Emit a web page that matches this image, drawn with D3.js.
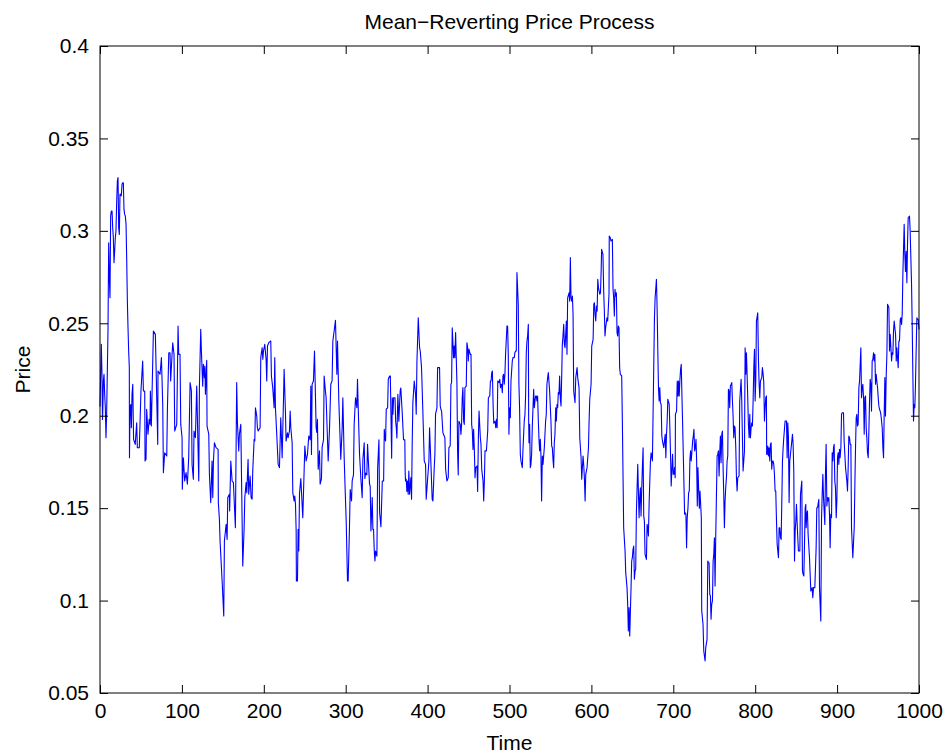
<!DOCTYPE html>
<html>
<head>
<meta charset="utf-8">
<script src="https://d3js.org/d3.v7.min.js"></script>
<style>
  body { margin: 0; background: #fff; }
  svg text { font-family: "Liberation Sans", Arial, Helvetica, sans-serif; fill: #000; }
  .axis path { display: none; }
  .axis line { stroke: #000; stroke-width: 1; }
  .price-line { fill: none; stroke: #0000ff; stroke-width: 1.1; stroke-linejoin: round; }
</style>
</head>
<body>
<svg width="950" height="753"></svg>
<script>
const chartTitle = "Mean\u2212Reverting Price Process";
const xLabel = "Time";
const yLabel = "Price";

const xTicks = [0, 100, 200, 300, 400, 500, 600, 700, 800, 900, 1000];
const yTicks = [0.05, 0.1, 0.15, 0.2, 0.25, 0.3, 0.35, 0.4];
const yTickLabels = ["0.05", "0.1", "0.15", "0.2", "0.25", "0.3", "0.35", "0.4"];

// [time, price]
const pricePath = [
  [0,0.205],[1.6,0.2386],[2.4,0.2224],[3,0.198],[3.3,0.2008],[4.1,0.2188],[4.9,0.2224],[5.7,0.2116],[6.5,0.2043],[7.3,0.1881],[8.1,0.2008],[9.8,0.2476],
  [10.6,0.2936],[11.4,0.2747],[12.2,0.2638],[13,0.308],[13.8,0.3107],[14.7,0.3107],[15.5,0.3017],[16.3,0.2963],[17.1,0.2828],[17.9,0.2891],[18.7,0.2963],[19.5,0.2999],
  [20.4,0.3161],[21.2,0.327],[22,0.3288],[22.8,0.3017],[23.6,0.2981],[24.4,0.3198],[25.2,0.3198],[26,0.3189],[26.9,0.3252],[27.7,0.326],[28.5,0.326],[29.3,0.3116],
  [30.1,0.3089],[30.9,0.308],[31.8,0.3035],[32.6,0.2846],[33.4,0.262],[34.2,0.2476],[35,0.235],[35.8,0.226],[36,0.1773],[36.6,0.2025],[37.5,0.2061],[38.3,0.1935],[39.1,0.2116],
  [40,0.217],[41,0.1872],[43,0.1845],[44.8,0.1962],[45.6,0.1827],[48,0.1827],[50,0.2134],[52.1,0.2296],[53,0.2134],[54.6,0.2134],[55,0.1755],[56.2,0.1764],[57,0.2035],
  [58.6,0.190],[60,0.198],[61.1,0.1953],[61.5,0.2134],[62.7,0.1944],[65.2,0.2458],[67.6,0.244],[70.5,0.1845],[70.8,0.2242],[73.3,0.2224],[75,0.2314],[76.6,0.2061],
  [77.4,0.1692],[79,0.18],[81.5,0.1782],[82.3,0.2035],[84,0.2341],[85.5,0.2341],[86.3,0.2188],[88,0.2332],[88.8,0.2395],[90.4,0.2332],[91.2,0.1917],[93.7,0.1953],
  [95.3,0.2485],[96.1,0.2332],[97.7,0.2332],[98.6,0.1953],[100.2,0.1881],[100.5,0.1602],[101.8,0.1773],[103.4,0.1647],[105.1,0.1692],[106.7,0.1629],[108.3,0.1773],
  [110,0.2179],[111.6,0.2134],[112.4,0.1737],[114,0.1656],[114.8,0.1917],[116.5,0.1881],[118.1,0.2161],[119.7,0.1827],[120.6,0.1647],[121.4,0.2161],[123,0.2467],
  [123.8,0.235],[125.4,0.216],[126.2,0.2278],[127.5,0.2206],[128.1,0.2269],[128.7,0.2116],[130.3,0.23],[130.7,0.1944],[132.8,0.190],[133.6,0.1683],[135.2,0.153],
  [136.8,0.1755],[137.7,0.1557],[138.5,0.1755],[139.7,0.1854],[141.7,0.1827],[144.2,0.1818],[144.5,0.153],[145.8,0.144],[146.6,0.1322],[149.1,0.1106],[151.1,0.0917],
  [151.9,0.1322],[154,0.1412],[155.2,0.1331],[156,0.1557],[158,0.1575],[158.3,0.1485],[159.7,0.1755],[161.3,0.1647],[162.9,0.1638],[165.3,0.1394],[166.9,0.2179],
  [167.8,0.1962],[169.4,0.1809],[170.2,0.190],[171.9,0.1953],[174.3,0.1187],[176,0.1394],[176.8,0.1557],[178.4,0.1638],[179.2,0.1584],[180.8,0.1764],[181.6,0.1575],
  [183.3,0.1674],[184.5,0.1557],[185.7,0.1548],[186.5,0.1701],[188.2,0.1872],[189,0.1863],[189.8,0.2043],[191.4,0.1998],[192.2,0.1935],[193.1,0.1917],[195.5,0.1935],
  [196.3,0.2314],[198,0.2368],[198.8,0.2305],[199.6,0.235],[201.2,0.2386],[202.8,0.2305],[203.6,0.2188],[204.5,0.2377],[206.1,0.2395],[208.5,0.2404],[209.3,0.2215],
  [210.9,0.2152],[212.6,0.2043],[213.4,0.2314],[214.2,0.2043],[215.8,0.190],[217.5,0.1737],[219.1,0.1719],[220.7,0.1989],[222.4,0.1773],[224,0.208],[224.8,0.2251],
  [226.4,0.2025],[227.2,0.1863],[228.9,0.1908],[229.7,0.1881],[231.3,0.1917],[232.2,0.2025],[233,0.1935],[234.6,0.1854],[235.4,0.1584],[237,0.1539],[237.8,0.1566],
  [238.7,0.1521],[239.5,0.1376],[239.8,0.1106],[241.1,0.1106],[241.9,0.1385],[242.7,0.1268],[243.6,0.158],[245.2,0.166],
  [247.6,0.1448],[250.1,0.1836],[251.7,0.1755],[253.3,0.179],[254.9,0.189],[256.6,0.187],[257.4,0.216],[258.2,0.179],[259,0.217],[260.6,0.2188],[261.9,0.235],
  [263.9,0.1935],[264.7,0.191],[265.5,0.198],[266.4,0.171],[268,0.181],[268.8,0.163],[270.4,0.166],[271.2,0.183],[272.9,0.187],[273.7,0.2215],[275.3,0.213],
  [276.1,0.2097],[278.6,0.1755],[280.2,0.1926],[281.8,0.217],[283.4,0.219],[284.3,0.2404],[285.9,0.2458],[287.5,0.2516],[289.2,0.2224],[290,0.2404],[291.6,0.208],
  [294,0.1764],[295.7,0.1935],[296.5,0.2097],[298.1,0.178],[299,0.1647],[300.6,0.143],[302.2,0.1106],[303,0.1106],[304.6,0.1394],[305.5,0.160],[307.1,0.1539],
  [307.9,0.1647],[309.5,0.168],[310.3,0.195],[312,0.2097],[313.6,0.2043],[314.4,0.2197],[315.3,0.2043],[316.9,0.179],[318.5,0.166],[320.1,0.1557],[321,0.1764],
  [322.6,0.1854],[323.4,0.166],[324.2,0.169],[325.8,0.168],[326.7,0.1845],[327.5,0.177],[329.1,0.163],[329.9,0.162],[330.8,0.1376],[332.4,0.1557],[333.2,0.1385],
  [334,0.1385],[334.9,0.1268],[335.7,0.1214],[336.5,0.1268],[338.1,0.124],[339,0.1719],[340.6,0.187],[341.4,0.1476],[343,0.140],[344.7,0.1647],[346.3,0.1647],
  [347.1,0.1926],[347.9,0.188],[348.7,0.1863],[349.5,0.2035],[351.2,0.2043],[352,0.2197],[353.6,0.2215],[354.5,0.2215],[356.1,0.177],[356.9,0.2097],[357.7,0.2008],
  [358.5,0.2097],[360.2,0.2097],[361,0.197],[361.8,0.1935],
  [362.5,0.188],[363.7,0.2116],[364.9,0.197],[366.5,0.2134],[367.3,0.215],[368.9,0.2025],[370.6,0.187],[372.2,0.187],[372.6,0.170],[373,0.1647],[373.9,0.1656],
  [374.7,0.159],[375.5,0.1647],[376.3,0.1575],[377.1,0.170],[378,0.1575],[379.6,0.1665],[380.4,0.1548],[381.2,0.185],[382,0.207],[383.7,0.2188],[385.3,0.2116],
  [386.1,0.2008],[387,0.2296],[388.6,0.253],[390.2,0.2368],[391,0.235],[392.6,0.226],[394.3,0.2008],[395.9,0.1755],[397.5,0.1737],[398.3,0.1548],[400,0.1656],
  [401.6,0.1755],[402.4,0.1935],[404,0.1746],[405.6,0.1548],[406.5,0.1539],[408.1,0.1719],[408.9,0.179],[409.7,0.2008],[411.4,0.2043],[412.2,0.226],[414.6,0.226],
  [415.4,0.2053],[416.2,0.2035],[417.1,0.2025],[418.7,0.1908],[421.1,0.1881],[422,0.171],[423.6,0.1647],[425.2,0.1665],[426,0.1827],[427.6,0.1836],[428.5,0.217],
  [429.3,0.2179],[430.1,0.2476],[431.7,0.2314],[432.5,0.2377],[433.3,0.2314],[434.2,0.245],[435.8,0.2179],[436.6,0.181],[437.4,0.168],[438.2,0.197],[439.9,0.1953],
  [440.7,0.1899],[441.5,0.1953],[442.3,0.2097],[443.1,0.2152],[444,0.197],[444.8,0.1953],[445.6,0.2152],[447.2,0.216],[448,0.2395],[448.9,0.2368],[449.7,0.2296],
  [450.5,0.236],[452.1,0.2332],[453,0.2332],[453.8,0.1953],[454.6,0.1917],[455.4,0.1818],[456.2,0.1926],[457.1,0.181],[457.9,0.1665],[458.7,0.1719],[460.3,0.1728],
  [461.1,0.159],[462,0.1881],[462.8,0.2025],[464.4,0.1881],[465.2,0.1845],[466.1,0.171],[467.7,0.1647],[468.5,0.1539],[469.3,0.1647],[470.1,0.181],[471.8,0.181],
  [473.4,0.1917],[474.2,0.2097],[475.9,0.2107],[476.7,0.2188],[477.5,0.2188],[478.3,0.2233],[479.1,0.2242],[480,0.2053],[480.8,0.196],[482.4,0.197],[483.2,0.1935],
  [484.1,0.198],[484.9,0.1935],[485.7,0.2188],[487.3,0.2179],[488.1,0.2197],[489,0.2152],[489.8,0.217],
  [490.3,0.217],[491.2,0.2125],[492,0.2215],[492.8,0.2224],[493.6,0.217],[494.4,0.2224],[495.2,0.2332],[496.9,0.2485],[497.7,0.2485],[498.5,0.2332],[499.3,0.190],
  [500.1,0.2043],[501,0.1989],[501.8,0.2188],[503.4,0.2296],[504.2,0.2314],[505.8,0.2314],[506.6,0.2341],[507.5,0.235],[508.3,0.235],[509.1,0.2774],[510.7,0.2603],
  [511.5,0.217],[512.3,0.2043],[513.2,0.1791],[514,0.1755],[515.6,0.1719],[516.4,0.181],[518,0.1971],[518.9,0.2008],[519.7,0.2116],[520.5,0.2341],[521.3,0.2404],
  [522.1,0.2431],[523,0.2494],[523.4,0.1971],[523.8,0.1854],[524.6,0.1953],[525.4,0.1719],[526.2,0.1737],[527,0.1791],[527.8,0.1935],[529.5,0.2143],[530.3,0.2043],
  [531.1,0.208],[531.9,0.2107],[532.7,0.2107],[533.5,0.208],[534.3,0.2107],[535.2,0.1971],[536,0.1872],[536.8,0.181],[537.6,0.1872],[538.4,0.1782],[539.2,0.1539],
  [540.1,0.1782],[540.9,0.1737],[542.5,0.1827],[543.3,0.190],[544.1,0.1971],[544.9,0.2008],[545.7,0.217],[546.6,0.2206],[547.4,0.2233],[549,0.2134],[550.6,0.1971],
  [551.5,0.1836],[552.3,0.1827],[553.1,0.1764],[553.9,0.1719],[554.7,0.1854],[555.5,0.190],[556.4,0.2043],[557.2,0.1971],[558,0.2061],[558.8,0.2043],[559.6,0.2125],
  [560.4,0.2116],[561.2,0.2215],[562.1,0.2089],[562.9,0.2053],[563.7,0.2206],[564.5,0.2386],[565.3,0.2431],[566.2,0.2494],[567,0.2386],[567.8,0.2368],[568.6,0.244],
  [569.4,0.2512],[570.2,0.2332],[571,0.2638],[572.7,0.2665],[573.5,0.262],[574.3,0.2855],[575.1,0.2638],[576,0.262],[576.8,0.2647],[577.6,0.2549],[578.4,0.2134],
  [580,0.207],[580.9,0.2206],[582.5,0.226],[583.3,0.2206],[584.9,0.2152],[585.8,0.1881],[587.4,0.1773],[588.2,0.1656],[589.8,0.1782],[590.7,0.1728],[591.5,0.1656],
  [592.3,0.1539],[593.1,0.1683],[594.7,0.1719],[596.4,0.1827],[597.2,0.1971],[598,0.2089],[599.6,0.217],[600.4,0.2377],[602.1,0.2413],[602.9,0.2603],[603.7,0.2611],
  [604.5,0.2549],[605.3,0.2512],[606.2,0.2593],[607,0.2566],[607.8,0.2738],[608.6,0.2693],[610.3,0.2657],[611.1,0.2665],[611.9,0.2783],
  [612.5,0.290],[614.1,0.2873],[615,0.2675],[615.8,0.2566],[616.6,0.2431],[617.4,0.2476],[619,0.253],[619.9,0.2512],[621.5,0.2657],[621.8,0.2972],[623.1,0.2963],
  [623.9,0.2945],[625.6,0.2954],[626.4,0.2684],[627.2,0.2638],[628,0.2539],[628.8,0.2684],[629.6,0.2647],[630.5,0.2665],[631.3,0.2449],[632.1,0.2431],[632.9,0.2485],
  [633.7,0.2476],[634.5,0.226],[635.3,0.2224],[637,0.2215],[637.8,0.1971],[639.4,0.1394],[641.1,0.1268],[641.9,0.1151],[643.5,0.107],[644.3,0.098],[645.1,0.0835],
  [646,0.0962],[646.8,0.0808],[648.4,0.107],[649.2,0.1214],[650,0.1232],[650.8,0.1277],[651.7,0.1295],[652.5,0.1115],[653.3,0.116],[654.1,0.1169],[654.9,0.1467],
  [656.6,0.1737],[657.4,0.1593],[658.2,0.1448],[659,0.1557],[659.8,0.161],[660.6,0.1457],[661.5,0.161],[662.3,0.1728],[663.1,0.1827],[663.9,0.1457],[664.7,0.143],
  [665.5,0.125],[667.2,0.1223],[668,0.1412],[668.8,0.1394],[669.6,0.1349],[670.5,0.153],[672.1,0.1755],[672.9,0.18],[674.5,0.1755],[675.4,0.2043],[677,0.253],
  [677.8,0.2638],[679.4,0.2738],[680.3,0.2566],[681.1,0.235],[681.9,0.2152],[682.7,0.208],[683.5,0.2152],[684.3,0.207],[685.2,0.2061],[686,0.189],[686.8,0.1863],
  [688.4,0.1827],[689.2,0.1863],[690.1,0.190],[690.9,0.1773],[691.7,0.190],[692.5,0.1971],[693.3,0.2089],[695,0.2061],[695.8,0.1935],[696.6,0.1791],[697.4,0.162],
  [699.1,0.1791],[699.9,0.1683],[700.7,0.1683],[701.5,0.1719],[702.3,0.1665],[702.6,0.2008],[704,0.2025],[704.8,0.2188],[705.6,0.2107],[706.4,0.2188],[707.2,0.2107],
  [708,0.2188],[708.9,0.2251],[709.7,0.2278],[710.5,0.2116],[711.3,0.1971],[712.1,0.181],[713,0.1629],[713.8,0.1467],[714.6,0.1475],[715.4,0.1467],[716.2,0.1286],
  [717,0.1448],[717.9,0.150],[718.7,0.1584],[719.5,0.1593],[720.3,0.1764],[721.1,0.181],[721.9,0.1755],[722.8,0.181],[723.6,0.1863],[724.4,0.189],[725.2,0.1926],
  [726,0.181],[726.9,0.1827],[727.7,0.1872],[728.5,0.1755],[729.3,0.1512],[730.1,0.1719],[730.9,0.161],[731.8,0.150],[732.6,0.1593],[734.2,0.1448],
  [734.7,0.0944],[736.3,0.0872],[737.2,0.0727],[738.8,0.0673],[739.6,0.0745],[741.2,0.079],[742.1,0.1214],[742.9,0.1205],[743.7,0.1205],[744.5,0.1034],[745.3,0.1025],
  [746.1,0.0899],[746.9,0.098],[747.8,0.0998],[748.6,0.1214],[749.4,0.125],[750.2,0.134],[751,0.1079],[751.8,0.134],[752.6,0.1548],[753.5,0.1782],[754.3,0.1791],
  [755.1,0.181],[755.9,0.1674],[756.7,0.18],[757.5,0.189],[758.3,0.1746],[759.2,0.19],[760,0.1917],[760.8,0.1719],[761.6,0.1575],[762.4,0.1394],[763.2,0.1539],
  [764,0.1611],[764.9,0.1665],[765.7,0.1755],[766.5,0.1782],[767.3,0.2143],[768.1,0.2134],[768.9,0.2043],[769.7,0.2161],[770.6,0.217],[771.4,0.2179],[772.2,0.208],
  [773,0.1998],[773.8,0.1881],[774.6,0.1944],[775.4,0.1935],[776.3,0.1827],[777.1,0.1665],[777.9,0.1593],[778.7,0.1665],[780.3,0.1674],[781.1,0.208],[782.8,0.2197],
  [783.6,0.208],[784.4,0.1881],[785.2,0.1701],[786.9,0.181],[787.7,0.2368],[788.5,0.2224],[789.3,0.2341],[790.1,0.2224],[790.9,0.2097],[791.7,0.1953],[792.6,0.1881],
  [793.4,0.2008],[794.2,0.1881],[795,0.1935],[795.8,0.1962],[796.6,0.1944],[797.4,0.207],[798.3,0.226],[799.1,0.2359],[799.9,0.208],[800.7,0.2188],[801.5,0.2512],
  [803.1,0.2557],[804,0.2296],[804.8,0.217],[805.6,0.2097],[806.4,0.2188],[808,0.2206],[808.8,0.226],[809.7,0.2224],[810.5,0.2179],[811.3,0.1971],[812.1,0.2043],
  [812.9,0.2097],[813.7,0.2107],[814,0.1791],[814.5,0.1791],[815.4,0.1836],[816.2,0.1782],[817,0.1827],[817.8,0.1755],[818.6,0.1845],[819.4,0.1854],[820.2,0.171],
  [821.1,0.1755],[821.9,0.1755],[822.7,0.1737],[823.5,0.1683],[824.3,0.1593],[825.1,0.1593],[825.9,0.1448],[826.8,0.1304],[828.4,0.1232],[829.2,0.1394],[830,0.1394],
  [830.8,0.134],[831.7,0.1331],[832.5,0.1539],[833.3,0.1755],[834.1,0.1827],[834.9,0.1881],[836.5,0.1971],[838.2,0.1971],[839,0.1773],[839.8,0.1962],[840.6,0.1881],
  [841.4,0.153],[842.2,0.1755],[843.9,0.1827],[844.7,0.1863],[845.5,0.19],[846.3,0.1845],[847.1,0.1701],[848,0.1214],[848.8,0.1376],[849.6,0.143],[850.4,0.1521],
  [851.2,0.1421],[852,0.134],[852.8,0.1268],[854.5,0.1268],[855.3,0.1575],[856.1,0.1611],[856.9,0.1647],[857.7,0.116],[858.5,0.1142],[859.4,0.1133],[860.2,0.1304],
  [861,0.1502],[861.8,0.1521],
  [862.2,0.1394],[863,0.1467],[863.8,0.1485],[864.6,0.1358],[866.3,0.1232],[867.9,0.1052],[869.5,0.107],[870.3,0.1016],[871.2,0.107],[872.8,0.107],[874.4,0.1286],
  [875.2,0.1502],[876.1,0.1502],[877.7,0.1548],[878.5,0.107],[880.1,0.089],[881,0.1448],[881.8,0.1575],[882.6,0.1683],[883.4,0.1557],[885,0.1412],[885.8,0.1692],
  [886.6,0.1845],[887.5,0.1512],[888.3,0.1557],[889.1,0.1539],[889.9,0.1557],[890.7,0.1467],[891.5,0.1286],[892.3,0.1467],[893.2,0.1448],[894,0.18],[894.8,0.1755],
  [895.6,0.1827],[896.4,0.1845],[897.2,0.1647],[898,0.1611],[898.9,0.1448],[899.7,0.1539],[900.5,0.1773],[901.3,0.18],[902.1,0.1737],[902.9,0.1818],[903.7,0.1773],
  [904.6,0.1827],[905.4,0.2008],[906.2,0.2016],[907.8,0.2016],[908.6,0.1863],[910.3,0.1719],[911.9,0.1647],[912.7,0.1593],[913.5,0.1719],[914.3,0.189],[915.2,0.1881],
  [916,0.1845],[916.8,0.1845],[917.6,0.1394],[919.2,0.1232],[920.9,0.1394],[921.7,0.1629],[922.5,0.1827],[923.3,0.1989],[924.1,0.2008],[924.9,0.1944],[925.7,0.1953],
  [926.6,0.2152],[927.4,0.2188],[928.2,0.2278],[929,0.2368],[929.8,0.2097],[930.6,0.2152],[931.4,0.217],[932.3,0.2097],[933.1,0.19],[933.9,0.2097],[934.7,0.2107],
  [935.5,0.1935],[936.3,0.1881],[937.1,0.18],[938,0.1773],[938.8,0.1917],[939.6,0.208],[940.4,0.2197],[941.2,0.217],[942,0.2025],[942.8,0.2296],[943.7,0.2305],
  [944.5,0.2341],[945.3,0.2296],[946.1,0.2332],[946.9,0.217],[947.7,0.2224],[948.5,0.2188],[949.4,0.2152],[950.2,0.2097],[951,0.2053],[951.8,0.2035],[952.6,0.2025],
  [953.4,0.2008],[954.3,0.1971],[955.1,0.1935],[955.9,0.1827],[956.7,0.1773],[957.5,0.2008],[958.3,0.2206],[959.1,0.1998],[960,0.2224],[960.8,0.2332],[961.6,0.2603],
  [962.4,0.2594],[963.2,0.2584],[964,0.235],[964.8,0.244],[965.7,0.2368],[966.5,0.2296],[967.3,0.2341],[968.1,0.2332],[968.9,0.2458],[969.7,0.2512],[970.5,0.2476],
  [971.4,0.244],[972.2,0.2296],[973,0.2368],[973.8,0.2314],[974.6,0.226],[975.4,0.2404],[976.2,0.2404],[977.1,0.2521],[977.9,0.253],[978.7,0.2494],[979.5,0.2549],
  [980.3,0.2765],[981.9,0.3035],[982.7,0.2873],[983.5,0.278],[984.3,0.289],[985.2,0.272],[986,0.2935],[986.8,0.3071],[988.4,0.308],[989.2,0.3],[990.9,0.2711],
  [991.7,0.2494],[992.5,0.2224],[993.3,0.1971],[994.1,0.2061],[994.9,0.2043],[995.7,0.217],[996.6,0.2368],[997.4,0.253],[998.2,0.2521],[999,0.2521],[1000,0.2467]
];

const svg = d3.select("svg");
const margin = { top: 46, right: 31, bottom: 60, left: 100 };
const width = 950 - margin.left - margin.right;
const height = 753 - margin.top - margin.bottom;
const fontSize = 21;

const x = d3.scaleLinear().domain([0, 1000]).range([0, width]);
const y = d3.scaleLinear().domain([0.05, 0.4]).range([height, 0]);

const g = svg.append("g").attr("transform", `translate(${margin.left},${margin.top})`);

// the line
const line = d3.line().x(d => x(d[0])).y(d => y(d[1]));
g.append("path").datum(pricePath).attr("class", "price-line").attr("d", line);

// ticks pointing inward on all four sides, labels only bottom and left
const tickLen = 8;
g.append("g").attr("class", "axis")
    .attr("transform", `translate(0,${height})`)
    .call(d3.axisBottom(x).tickValues(xTicks).tickSizeInner(-tickLen).tickSizeOuter(0).tickPadding(10).tickFormat(d3.format("d")))
    .selectAll("text").attr("font-size", fontSize);

g.append("g").attr("class", "axis")
    .call(d3.axisTop(x).tickValues(xTicks).tickSizeInner(-tickLen).tickSizeOuter(0).tickFormat(""));

g.append("g").attr("class", "axis")
    .call(d3.axisLeft(y).tickValues(yTicks).tickSizeInner(-tickLen).tickSizeOuter(0).tickPadding(11)
        .tickFormat((d, i) => yTickLabels[i]))
    .selectAll("text").attr("font-size", fontSize);

g.append("g").attr("class", "axis")
    .attr("transform", `translate(${width},0)`)
    .call(d3.axisRight(y).tickValues(yTicks).tickSizeInner(-tickLen).tickSizeOuter(0).tickFormat(""));

// frame
g.append("rect")
    .attr("width", width).attr("height", height)
    .attr("fill", "none").attr("stroke", "#000").attr("stroke-width", 1);

// title and axis labels
svg.append("text")
    .attr("x", margin.left + width / 2).attr("y", 29)
    .attr("text-anchor", "middle").attr("font-size", fontSize)
    .text(chartTitle);

svg.append("text")
    .attr("x", margin.left + width / 2).attr("y", 750)
    .attr("text-anchor", "middle").attr("font-size", fontSize)
    .text(xLabel);

svg.append("text")
    .attr("transform", `translate(30,${margin.top + height / 2}) rotate(-90)`)
    .attr("text-anchor", "middle").attr("font-size", fontSize)
    .text(yLabel);
</script>
</body>
</html>
